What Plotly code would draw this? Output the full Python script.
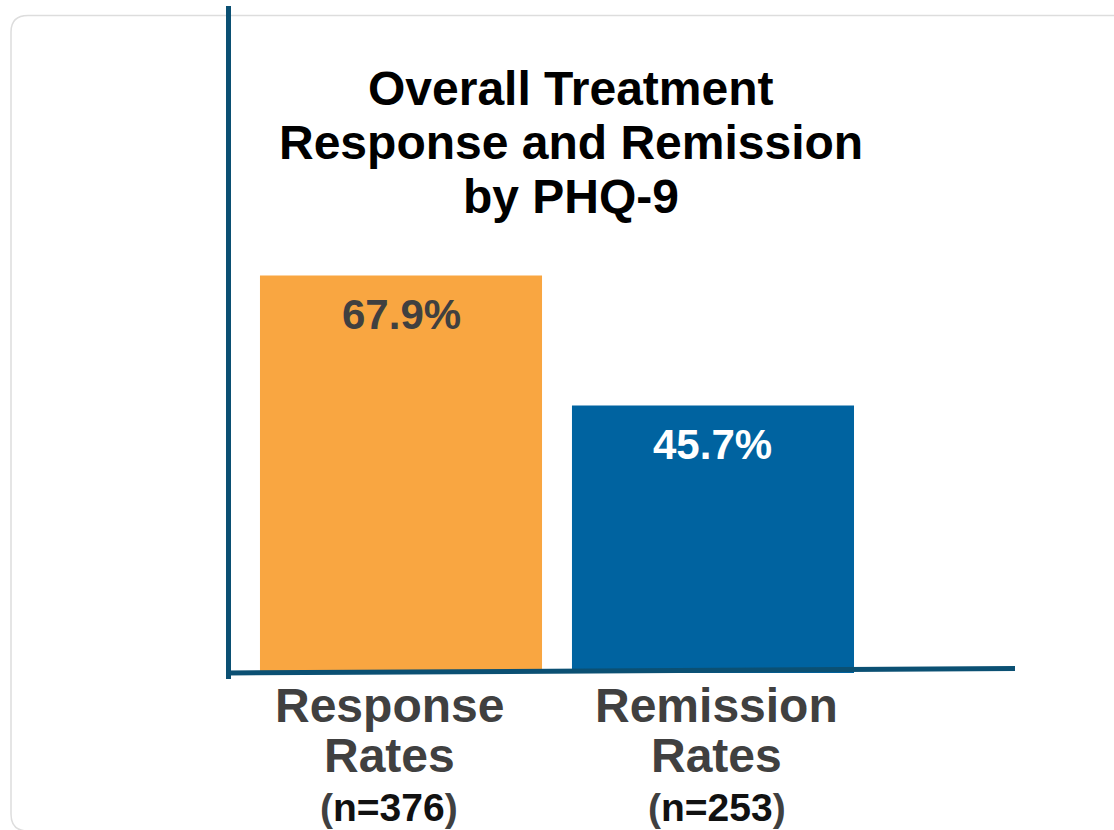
import plotly.graph_objects as go

# Chart data
categories = ["Response Rates", "Remission Rates"]
rates = [67.9, 45.7]
sample_sizes = [376, 253]
bar_colors = ["#F9A641", "#0063A0"]
value_label_colors = ["#404040", "#FFFFFF"]
title_lines = ["Overall Treatment", "Response and Remission", "by PHQ-9"]

W, H = 1114, 830
L, R, T, B = 229, 99, 6, 157
PW, PH = W - L - R, H - T - B


def px(x):
    """Pixel column -> paper x."""
    return (x - L) / PW


def py(y):
    """Pixel row -> paper y."""
    return (H - B - y) / PH


FONT = "Liberation Sans, Arial, Helvetica, sans-serif"
AXIS_BLUE = "#0B5073"
LABEL_GRAY = "#404040"

fig = go.Figure(
    go.Bar(
        x=categories,
        y=rates,
        marker=dict(color=bar_colors, line=dict(width=0)),
        width=0.904,
        hoverinfo="skip",
    )
)

annotations = []

# Value labels inside the top of each bar
for cat, val, col in zip(categories, rates, value_label_colors):
    annotations.append(dict(
        x=cat, y=val, xref="x", yref="y",
        text=f"{val:.1f}%", showarrow=False,
        yanchor="middle", yshift=-39,
        font=dict(family=FONT, size=42, color=col, weight="bold"),
    ))

# Chart title, one annotation per line
for line, cy in zip(title_lines, [89, 142, 196]):
    annotations.append(dict(
        x=px(571), y=py(cy), xref="paper", yref="paper",
        text=line, showarrow=False, xanchor="center", yanchor="middle",
        font=dict(family=FONT, size=48, color="#000000", weight="bold"),
    ))

# Category labels under the axis
for cat, n, shift in zip(categories, sample_sizes, [-12, 4]):
    word1, word2 = cat.split(" ")
    for text, cy, size, col in [
        (word1, 705, 48, LABEL_GRAY),
        (word2, 755, 48, LABEL_GRAY),
        (f"<span style='color:{LABEL_GRAY}'>(</span>n={n}<span style='color:{LABEL_GRAY}'>)</span>",
         807, 39, "#111111"),
    ]:
        annotations.append(dict(
            x=cat, y=py(cy), xref="x", yref="paper",
            text=text, showarrow=False, xanchor="center", yanchor="middle",
            xshift=shift,
            font=dict(family=FONT, size=size, color=col, weight="bold"),
        ))

shapes = [
    # Rounded card outline
    dict(
        type="path", xref="paper", yref="paper", layer="below",
        path=(f"M {px(1130)},{py(15.5)} L {px(28)},{py(15.5)} "
              f"Q {px(11)},{py(15.5)} {px(11)},{py(32)} "
              f"L {px(11)},{py(814)} Q {px(11)},{py(831)} {px(28)},{py(831)} "
              f"L {px(1130)},{py(831)}"),
        line=dict(color="#DDDDDD", width=1.5),
    ),
    # Vertical axis line
    dict(type="line", xref="paper", yref="paper",
         x0=px(228.5), x1=px(228.5), y0=py(6), y1=py(679),
         line=dict(color=AXIS_BLUE, width=5)),
    # Horizontal baseline
    dict(type="line", xref="paper", yref="paper",
         x0=px(227), x1=px(1015), y0=py(673), y1=py(668.5),
         line=dict(color=AXIS_BLUE, width=5)),
]

fig.update_layout(
    width=W, height=H,
    margin=dict(l=L, r=R, t=T, b=B, autoexpand=False),
    paper_bgcolor="#FFFFFF",
    plot_bgcolor="#FFFFFF",
    showlegend=False,
    xaxis=dict(range=[-0.5513, 1.968], showgrid=False, zeroline=False,
               showline=False, showticklabels=False, ticks=""),
    yaxis=dict(range=[0, 113.9], showgrid=False, zeroline=False,
               showline=False, showticklabels=False, ticks=""),
    annotations=annotations,
    shapes=shapes,
)

fig.write_html("out.html", config={"displayModeBar": False})
